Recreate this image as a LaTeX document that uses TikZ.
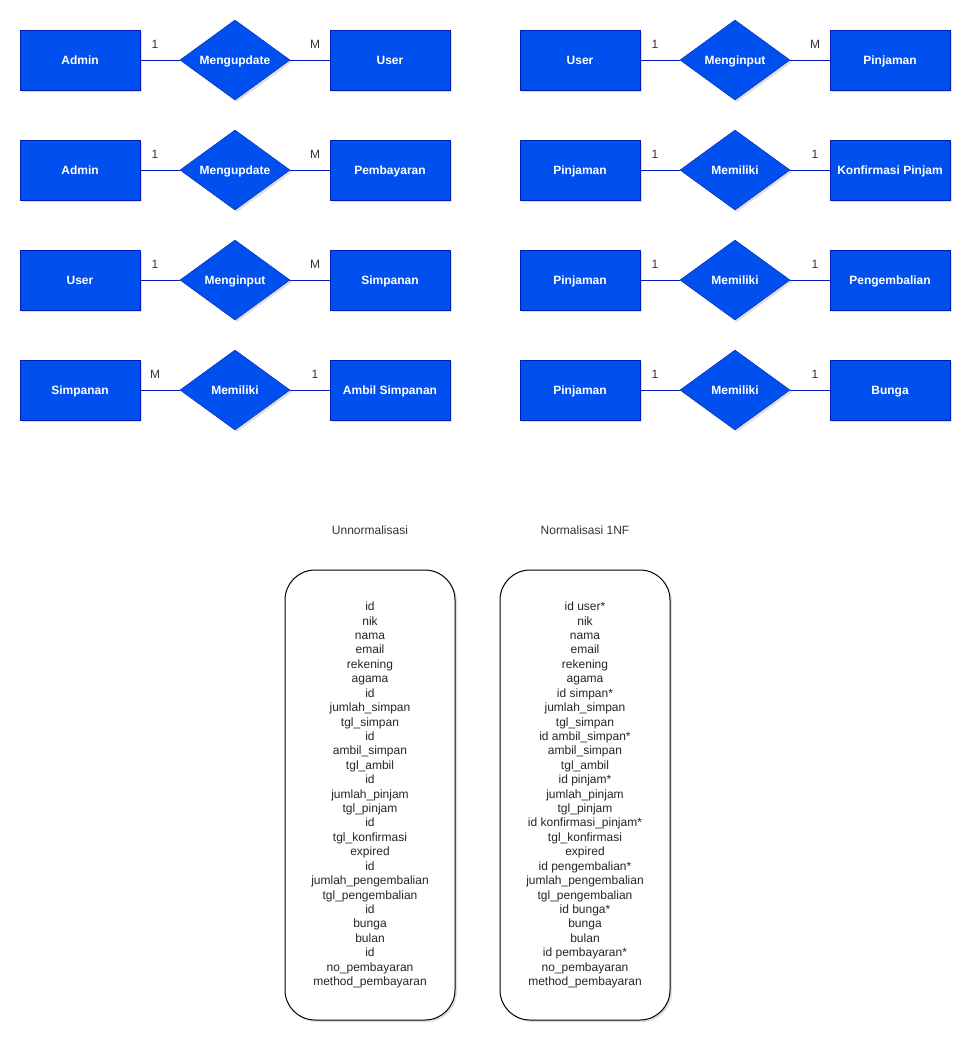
\documentclass[tikz,border=0pt]{standalone}
\usepackage{fontspec}
\setmainfont{Liberation Sans}
\usetikzlibrary{shapes.geometric,shadows}
\definecolor{efill}{HTML}{0050EF}
\definecolor{edraw}{HTML}{001DBC}
\begin{document}
\begin{tikzpicture}[x=1pt,y=-1pt,
  ent/.style={draw=edraw,fill=efill,minimum width=120pt,minimum height=60pt,inner sep=0pt,text height=8.6pt,text depth=0pt,text=white,font=\fontsize{12}{14}\selectfont\bfseries,drop shadow={shadow xshift=2pt,shadow yshift=-2pt,opacity=0.25}},
  rel/.style={diamond,draw=edraw,fill=efill,minimum width=110pt,minimum height=80pt,inner sep=0pt,aspect=1.375,text height=8.6pt,text depth=0pt,text=white,font=\fontsize{12}{14}\selectfont\bfseries,drop shadow={shadow xshift=2pt,shadow yshift=-2pt,opacity=0.25}},
  card/.style={font=\fontsize{12}{14}\selectfont,text=black!80},
  conn/.style={draw=edraw,line width=0.9pt},
  tbl/.style={draw=black,line width=1pt,rounded corners=30pt,minimum width=170pt,minimum height=450pt,fill=white,drop shadow={shadow xshift=2pt,shadow yshift=-2pt,opacity=0.25}},
  tbltext/.style={align=center,font=\fontsize{12}{14.42}\selectfont,text=black!85}
]
\useasboundingbox (0,0) rectangle (977,1047);
\fill[white] (0,0) rectangle (977,1047);

% helper: one relationship row
\newcommand{\errow}[8]{%
  % #1 prefix, #2 x-offset, #3 y center, #4 left, #5 rel, #6 right, #7 left card, #8 right card
  \node[ent] (#1a) at (#2+80,#3) {#4};
  \node[rel] (#1r) at (#2+235,#3) {#5};
  \node[ent] (#1b) at (#2+390,#3) {#6};
  \draw[conn] (#1a.east) -- (#1r.west);
  \draw[conn] (#1r.east) -- (#1b.west);
  \node[card] (#1c) at (#2+155,#3-16) {#7};
  \node[card] (#1d) at (#2+315,#3-16) {#8};
}

\errow{la}{0}{60}{Admin}{Mengupdate}{User}{1}{M}
\errow{lb}{0}{170}{Admin}{Mengupdate}{Pembayaran}{1}{M}
\errow{lc}{0}{280}{User}{Menginput}{Simpanan}{1}{M}
\errow{ld}{0}{390}{Simpanan}{Memiliki}{Ambil Simpanan}{M}{1}
\errow{ra}{500}{60}{User}{Menginput}{Pinjaman}{1}{M}
\errow{rb}{500}{170}{Pinjaman}{Memiliki}{Konfirmasi Pinjam}{1}{1}
\errow{rc}{500}{280}{Pinjaman}{Memiliki}{Pengembalian}{1}{1}
\errow{rd}{500}{390}{Pinjaman}{Memiliki}{Bunga}{1}{1}

\node[card] (t1) at (370,530) {Unnormalisasi};
\node[card] (t2) at (585,530) {Normalisasi 1NF};

\node[tbl] (u) at (370,795) {};
\node[tbl] (n) at (585,795) {};

\node[tbltext] (ut) at (370,795) {id\\nik\\nama\\email\\rekening\\agama\\id\\jumlah\_simpan\\tgl\_simpan\\id\\ambil\_simpan\\tgl\_ambil\\id\\jumlah\_pinjam\\tgl\_pinjam\\id\\tgl\_konfirmasi\\expired\\id\\jumlah\_pengembalian\\tgl\_pengembalian\\id\\bunga\\bulan\\id\\no\_pembayaran\\method\_pembayaran};
\node[tbltext] (nt) at (585,795) {id user*\\nik\\nama\\email\\rekening\\agama\\id simpan*\\jumlah\_simpan\\tgl\_simpan\\id ambil\_simpan*\\ambil\_simpan\\tgl\_ambil\\id pinjam*\\jumlah\_pinjam\\tgl\_pinjam\\id konfirmasi\_pinjam*\\tgl\_konfirmasi\\expired\\id pengembalian*\\jumlah\_pengembalian\\tgl\_pengembalian\\id bunga*\\bunga\\bulan\\id pembayaran*\\no\_pembayaran\\method\_pembayaran};
\end{tikzpicture}
\end{document}
